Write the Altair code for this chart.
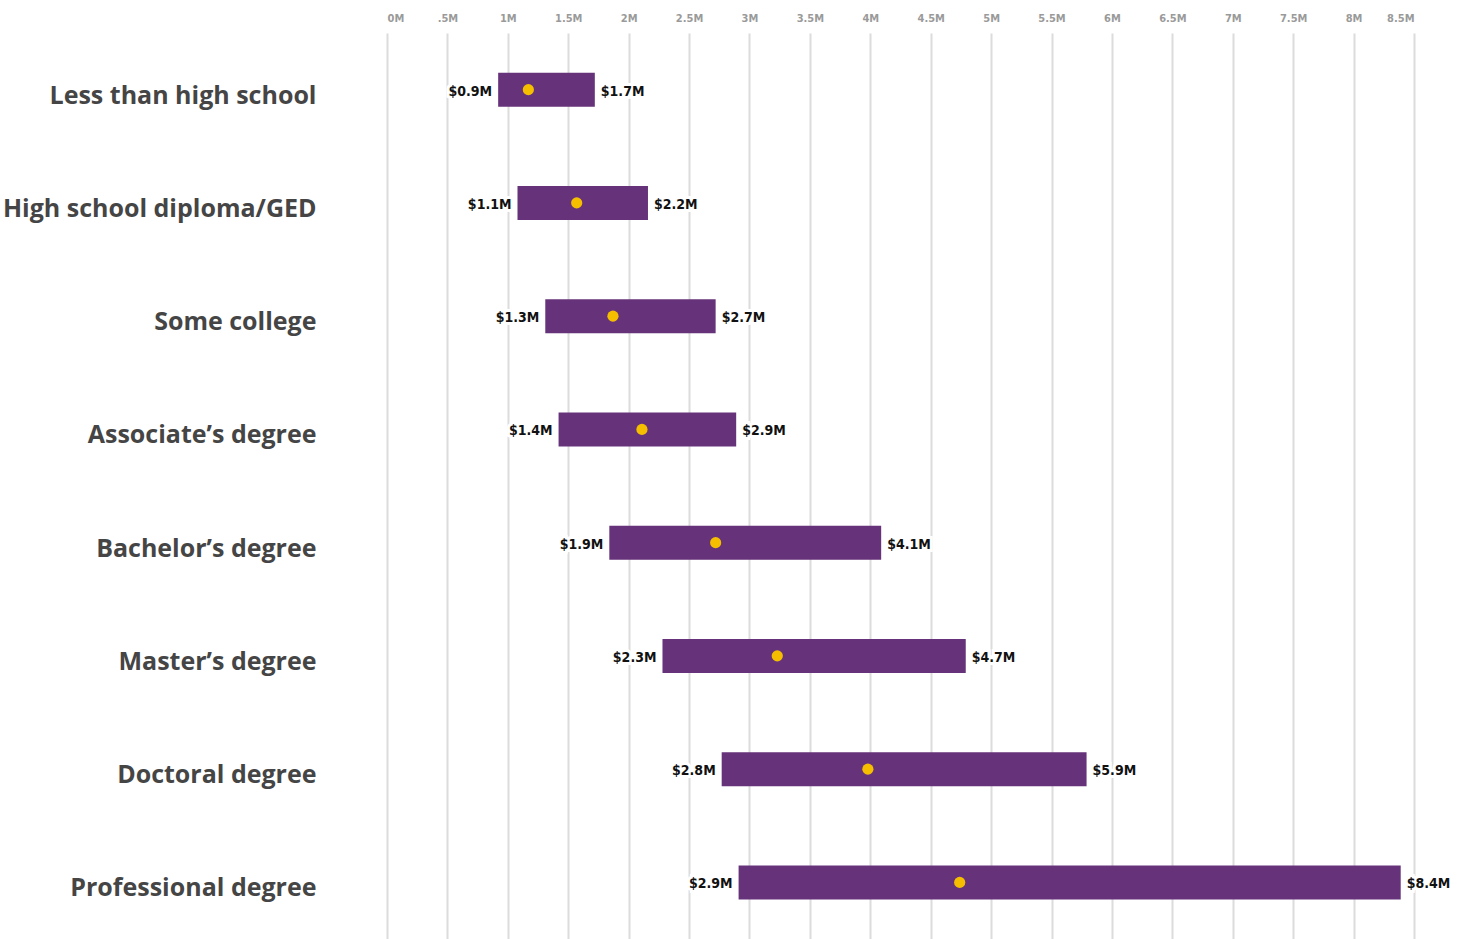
import altair as alt
import pandas as pd

categories = [
    "Less than high school",
    "High school diploma/GED",
    "Some college",
    "Associate’s degree",
    "Bachelor’s degree",
    "Master’s degree",
    "Doctoral degree",
    "Professional degree",
]
low = [0.92, 1.08, 1.31, 1.42, 1.84, 2.28, 2.77, 2.91]
high = [1.72, 2.16, 2.72, 2.89, 4.09, 4.79, 5.79, 8.39]
mid = [1.17, 1.57, 1.87, 2.11, 2.72, 3.23, 3.98, 4.74]
low_labels = ["$0.9M", "$1.1M", "$1.3M", "$1.4M", "$1.9M", "$2.3M", "$2.8M", "$2.9M"]
high_labels = ["$1.7M", "$2.2M", "$2.7M", "$2.9M", "$4.1M", "$4.7M", "$5.9M", "$8.4M"]
tick_values = [0, 0.5, 1, 1.5, 2, 2.5, 3, 3.5, 4, 4.5, 5, 5.5, 6, 6.5, 7, 7.5, 8, 8.5]
tick_labels = ["0M", ".5M", "1M", "1.5M", "2M", "2.5M", "3M", "3.5M", "4M", "4.5M",
               "5M", "5.5M", "6M", "6.5M", "7M", "7.5M", "8M", "8.5M"]

df = pd.DataFrame({
    "cat": categories, "low": low, "high": high, "mid": mid,
    "low_label": low_labels, "high_label": high_labels,
})

label_expr = "[" + ",".join(f"'{t}'" for t in tick_labels) + "][round(datum.value*2)]"

VAL_FONT = "DejaVu Sans Condensed, Lato, sans-serif"

x_enc = alt.X(
    "low:Q",
    scale=alt.Scale(domain=[0, 8.5], nice=False, zero=True),
    axis=alt.Axis(
        orient="top", values=tick_values, labelExpr=label_expr, title=None,
        domain=False, ticks=False, grid=True, gridColor="#dcdcdc", gridWidth=2,
        labelFont=VAL_FONT, labelFontSize=11, labelFontWeight="bold",
        labelColor="#9a9a9a", labelPadding=10,
    ),
)
y_enc = alt.Y(
    "cat:N", sort=categories, title=None,
    scale=alt.Scale(paddingInner=0, paddingOuter=0),
    axis=alt.Axis(
        domain=False, ticks=False, grid=False, labelPadding=71,
        labelFont="Open Sans, sans-serif", labelFontSize=25,
        labelFontWeight="bold", labelColor="#454545", labelLimit=0,
        labelBaseline="middle", labelOffset=6,
    ),
)

base = alt.Chart(df)

bars = base.mark_bar(size=34, color="#66337a").encode(
    x=x_enc, x2="high:Q", y=y_enc
)
dots = base.mark_point(filled=True, size=125, color="#f5bf00", opacity=1).encode(
    x="mid:Q", y=alt.Y("cat:N", sort=categories)
)

def label_layer(field, text_field, align, dx, halo):
    kw = dict(align=align, baseline="middle", dx=dx, dy=2, font=VAL_FONT,
              fontSize=14, fontWeight="bold")
    if halo:
        kw.update(color="white", stroke="white", strokeWidth=6)
    else:
        kw.update(color="#111111")
    return base.mark_text(**kw).encode(
        x=f"{field}:Q", y=alt.Y("cat:N", sort=categories), text=f"{text_field}:N"
    )

layers = [
    bars,
    label_layer("low", "low_label", "right", -6, True),
    label_layer("high", "high_label", "left", 6, True),
    label_layer("low", "low_label", "right", -6, False),
    label_layer("high", "high_label", "left", 6, False),
    dots,
]

chart = alt.layer(*layers).properties(
    width=1027, height=906,
    autosize=alt.AutoSizeParams(type="none"),
    padding={"left": 387, "top": 33, "right": 48, "bottom": 0},
    background="white",
).configure_view(stroke=None)

chart.save("out.html", embed_options={"renderer": "svg", "actions": False})
